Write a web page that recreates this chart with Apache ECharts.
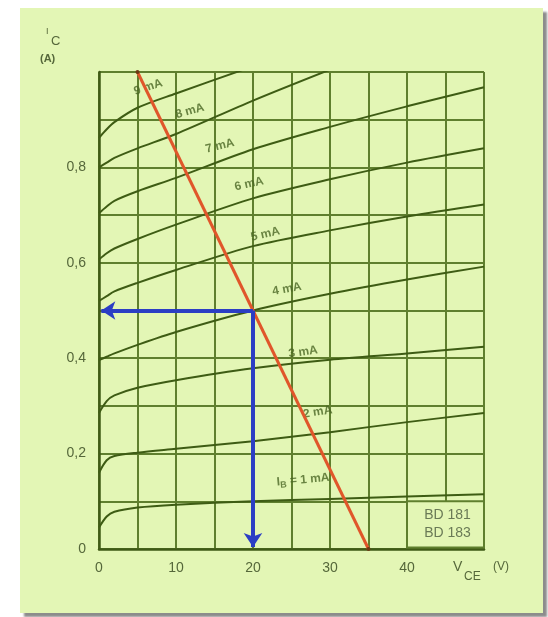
<!DOCTYPE html>
<html>
<head>
  <meta charset="UTF-8">
  <title>BD 181 Kennlinien</title>
  <style>
    html, body { margin: 0; padding: 0; background: #fff; }
    #chart { width: 548px; height: 617px; }
  </style>
</head>
<body>
  <div id="chart"></div>
  <script src="https://cdn.jsdelivr.net/npm/echarts@6/dist/echarts.min.js"></script>
  <script>
    // V_CE sample points shared by all curves (V)
    const vce = [0, 1, 2, 5, 10, 20, 30, 40, 50];
    // I_C (A) for each base current
    const ib1 = [0.045, 0.068, 0.078, 0.087, 0.093, 0.1, 0.105, 0.11, 0.115];
    const ib2 = [0.16, 0.186, 0.195, 0.202, 0.21, 0.226, 0.245, 0.266, 0.285];
    const ib3 = [0.285, 0.31, 0.322, 0.338, 0.354, 0.379, 0.397, 0.41, 0.424];
    const ib4 = [0.396, 0.403, 0.41, 0.428, 0.455, 0.5, 0.535, 0.565, 0.592];
    const ib5 = [0.52, 0.53, 0.54, 0.558, 0.585, 0.635, 0.668, 0.697, 0.722];
    const ib6 = [0.607, 0.62, 0.63, 0.65, 0.68, 0.735, 0.775, 0.81, 0.84];
    const ib7 = [0.704, 0.718, 0.73, 0.75, 0.778, 0.838, 0.885, 0.928, 0.968];
    const ib8 = [0.8, 0.81, 0.82, 0.84, 0.87, 0.94, 1.005];
    const ib9 = [0.862, 0.88, 0.895, 0.925, 0.955, 1.012];
    const curves = [ib1, ib2, ib3, ib4, ib5, ib6, ib7, ib8, ib9];

    // curve labels: [V, I, text, rotation]
    const curveLabels = [
      [6.4, 0.968, '9 mA', 18],
      [11.8, 0.918, '8 mA', 16],
      [15.7, 0.845, '7 mA', 14],
      [19.5, 0.765, '6 mA', 13],
      [21.6, 0.66, '5 mA', 13],
      [24.4, 0.545, '4 mA', 11],
      [26.5, 0.413, '3 mA', 8],
      [28.4, 0.287, '2 mA', 9],
      [26.5, 0.145, 'ib1', 5]
    ];

    // load line and operating point
    const loadLine = [[5, 1.0], [35, 0]];
    const opPoint = [20, 0.5];

    const green = '#3e5c14';
    const gridGreen = '#5f7f2e';
    const textGreen = '#55673a';
    const labelGreen = '#4a6624';
    const font = 'Liberation Sans';

    const series = curves.map((c, i) => ({
      name: (i + 1) + ' mA',
      type: 'line',
      data: c.map((v, k) => [vce[k], v]),
      smooth: 0.3,
      showSymbol: false,
      clip: true,
      z: 3,
      lineStyle: { color: green, width: 2 }
    }));

    series.push({
      type: 'scatter',
      symbolSize: 0,
      z: 4,
      silent: true,
      data: curveLabels.map(l => ({
        value: [l[0], l[1]],
        label: {
          show: true,
          position: 'inside',
          rotate: l[3],
          formatter: l[2] === 'ib1' ? '{a|I}{b|B}{a| = 1 mA}' : l[2],
          color: labelGreen,
          fontSize: 12,
          fontWeight: 'bold',
          fontFamily: font,
          rich: {
            a: { fontSize: 12, fontWeight: 'bold', color: labelGreen, fontFamily: font, lineHeight: 16, verticalAlign: 'middle' },
            b: { fontSize: 9, fontWeight: 'bold', color: labelGreen, fontFamily: font, lineHeight: 16, verticalAlign: 'bottom' }
          }
        }
      }))
    });

    // BD box in the lower right cell
    series.push({
      type: 'line',
      data: [],
      markArea: {
        silent: true,
        itemStyle: { color: '#e3f6b5', borderColor: gridGreen, borderWidth: 2 },
        label: {
          show: true,
          position: 'inside',
          formatter: 'BD 181\nBD 183',
          color: '#6a7a56',
          fontSize: 14,
          lineHeight: 18,
          fontFamily: font,
          offset: [2, 0]
        },
        data: [[{ coord: [40, 0.003] }, { coord: [50, 0.1] }]]
      },
      z: 2
    });

    series.push({
      type: 'line',
      data: loadLine,
      z: 6,
      showSymbol: true,
      symbol: 'circle',
      symbolSize: 4,
      itemStyle: { color: '#6b3a14' },
      lineStyle: { color: '#e0562a', width: 3 }
    });

    series.push({
      type: 'lines',
      coordinateSystem: 'cartesian2d',
      z: 7,
      symbol: ['none', 'arrow'],
      symbolSize: 14,
      lineStyle: { color: '#2b3ec4', width: 4, opacity: 1 },
      data: [
        { coords: [opPoint, [0.3, opPoint[1]]] },
        { coords: [opPoint, [opPoint[0], 0.004]] }
      ]
    });

    const chart = echarts.init(document.getElementById('chart'));
    chart.setOption({
      backgroundColor: '#ffffff',
      animation: false,
      graphic: [
        {
          type: 'rect',
          z: -10,
          shape: { x: 20, y: 8, width: 523, height: 605 },
          style: {
            fill: '#e3f6b5',
            shadowColor: 'rgba(0,0,0,0.45)',
            shadowOffsetX: 4,
            shadowOffsetY: 4,
            shadowBlur: 2
          }
        },
        { type: 'text', z: 10, left: 46, top: 27, style: { text: 'I', fill: textGreen, font: '9px ' + font } },
        { type: 'text', z: 10, left: 51, top: 35, style: { text: 'C', fill: textGreen, font: '13px ' + font } },
        { type: 'text', z: 10, left: 40, top: 53, style: { text: '(A)', fill: textGreen, font: 'bold 11px ' + font } },
        { type: 'text', z: 10, left: 453, top: 560, style: { text: 'V', fill: textGreen, font: '14px ' + font } },
        { type: 'text', z: 10, left: 464, top: 571, style: { text: 'CE', fill: textGreen, font: '12px ' + font } },
        { type: 'text', z: 10, left: 493, top: 561, style: { text: '(V)', fill: textGreen, font: '12px ' + font } }
      ],
      grid: { left: 99, right: 64, top: 72, bottom: 68, containLabel: false, outerBoundsMode: 'none' },
      xAxis: {
        type: 'value',
        min: 0,
        max: 50,
        interval: 5,
        axisLine: { show: true, onZero: false, lineStyle: { color: '#3f5a16', width: 2.5 } },
        axisTick: { show: false },
        splitLine: { show: true, lineStyle: { color: gridGreen, width: 2 } },
        axisLabel: {
          margin: 12,
          color: textGreen,
          fontSize: 14,
          fontFamily: font,
          formatter: v => (v % 10 === 0 && v < 50) ? String(v) : ''
        }
      },
      yAxis: {
        type: 'value',
        min: 0,
        max: 1,
        interval: 0.1,
        axisLine: { show: true, onZero: false, lineStyle: { color: '#3f5a16', width: 2.5 } },
        axisTick: { show: false },
        splitLine: { show: true, lineStyle: { color: gridGreen, width: 2 } },
        axisLabel: {
          margin: 13,
          color: textGreen,
          fontSize: 14,
          fontFamily: font,
          formatter: v => {
            const t = Math.round(v * 10);
            if (t % 2 !== 0 || t >= 10) return '';
            return t === 0 ? '0' : '0,' + t;
          }
        }
      },
      series: series
    });
  </script>
</body>
</html>
